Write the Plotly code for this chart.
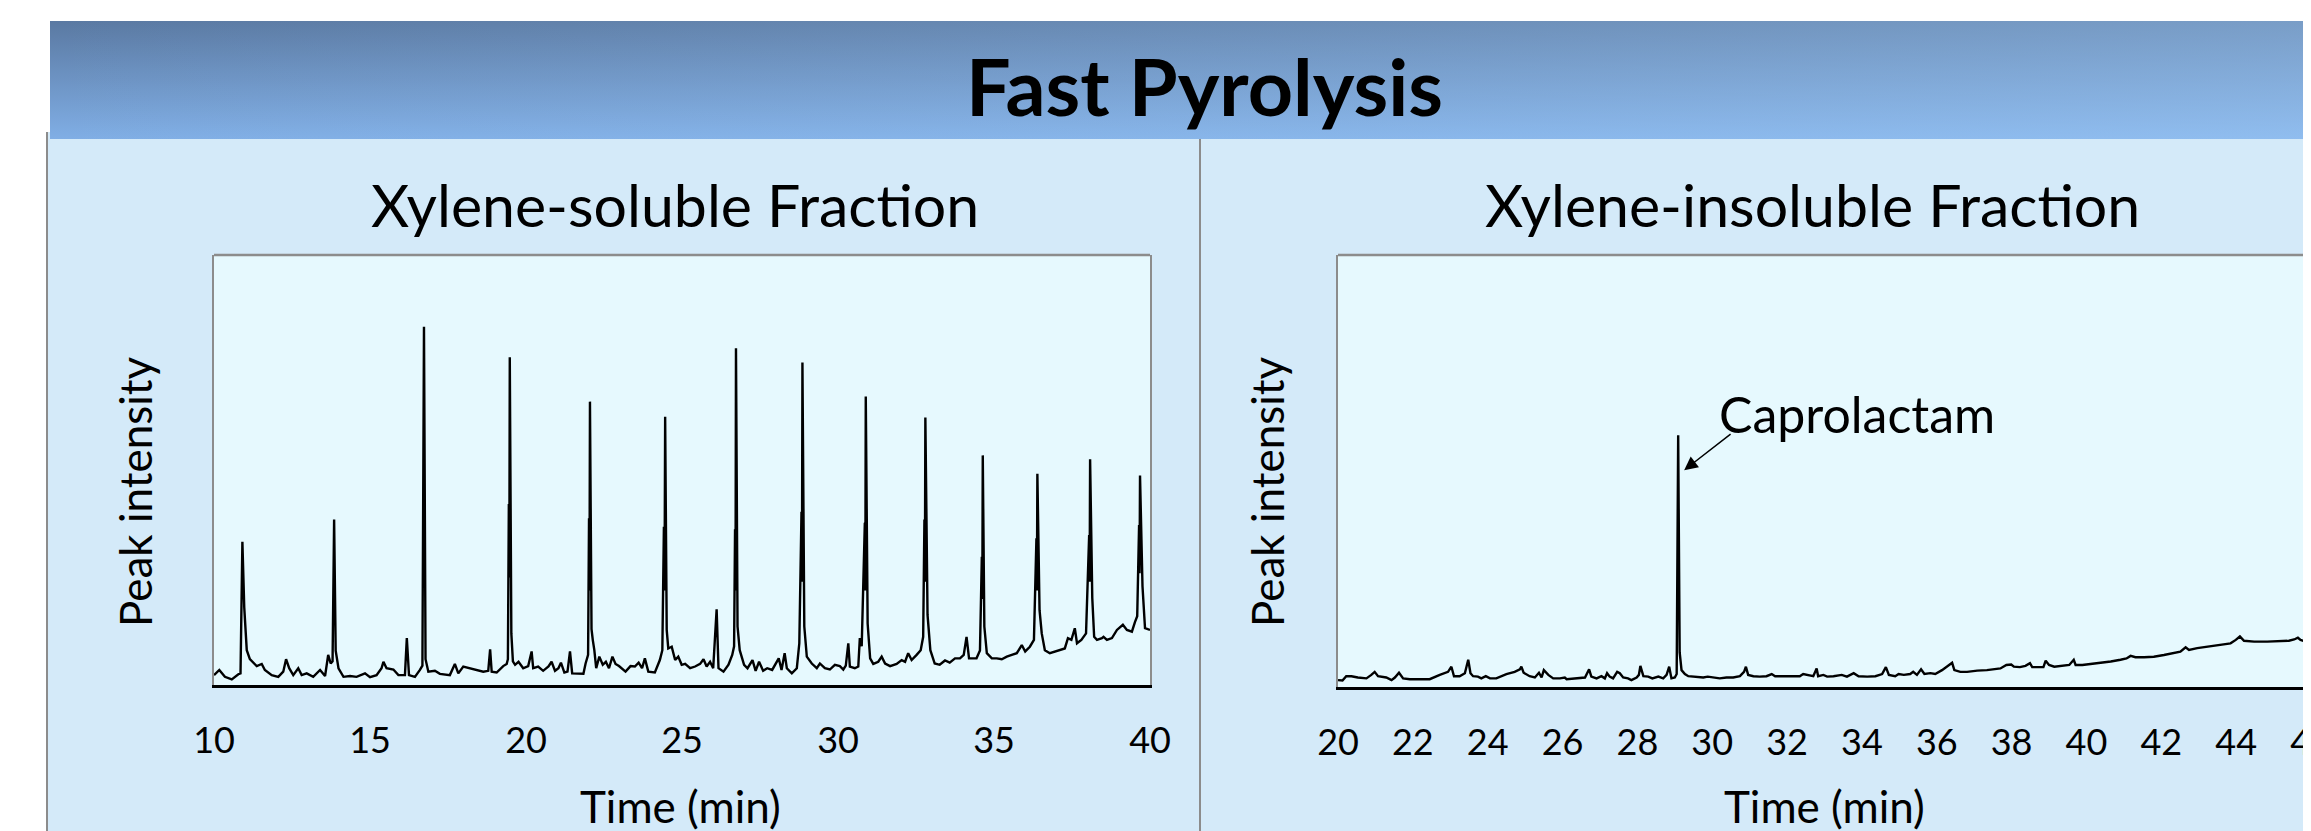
import base64
import plotly.graph_objects as go

# The page body has an 8 px default margin, so the figure is 8 px smaller and
# every page-pixel position below is shifted by that offset.
OFF = 8
W, H = 2311 - OFF, 831 - OFF
FONT = "Lato"

# ---------------- data ----------------
soluble_time = [
    10.00, 10.17, 10.35, 10.57, 10.78, 10.85, 10.91, 10.97, 11.05, 11.15, 11.37, 11.53, 11.63, 11.85,
    12.06, 12.22, 12.31, 12.41, 12.54, 12.70, 12.81, 12.97, 13.18, 13.40, 13.56, 13.66, 13.74, 13.80,
    13.85, 13.90, 13.99, 14.15, 14.36, 14.57, 14.84, 15.00, 15.21, 15.37, 15.43, 15.53, 15.75, 15.91,
    16.12, 16.18, 16.25, 16.44, 16.60, 16.68, 16.73, 16.78, 16.87, 17.08, 17.24, 17.56, 17.72, 17.83,
    17.99, 18.21, 18.42, 18.63, 18.79, 18.85, 18.90, 19.06, 19.27, 19.38, 19.42, 19.45, 19.465, 19.48,
    19.53, 19.58, 19.65, 19.76, 19.91, 20.07, 20.18, 20.23, 20.39, 20.55, 20.72, 20.82, 20.93, 21.04,
    21.12, 21.23, 21.33, 21.41, 21.48, 21.68, 21.84, 21.91, 21.99, 22.02, 22.035, 22.05, 22.10, 22.14,
    22.19, 22.25, 22.35, 22.46, 22.56, 22.66, 22.77, 22.87, 22.98, 23.19, 23.35, 23.49, 23.61, 23.72,
    23.81, 23.92, 24.13, 24.29, 24.37, 24.42, 24.44, 24.46, 24.51, 24.56, 24.67, 24.78, 24.88, 24.99,
    25.10, 25.26, 25.42, 25.58, 25.69, 25.79, 25.90, 26.00, 26.11, 26.17, 26.33, 26.49, 26.61, 26.67,
    26.70, 26.715, 26.73, 26.78, 26.85, 26.99, 27.10, 27.26, 27.36, 27.47, 27.60, 27.73, 27.89, 28.10,
    28.19, 28.29, 28.36, 28.52, 28.68, 28.76, 28.83, 28.845, 28.86, 28.92, 29.00, 29.16, 29.32, 29.42,
    29.58, 29.74, 29.90, 30.06, 30.17, 30.25, 30.33, 30.38, 30.54, 30.65, 30.70, 30.76, 30.86, 30.875,
    30.89, 30.95, 31.03, 31.13, 31.29, 31.40, 31.51, 31.67, 31.88, 32.04, 32.15, 32.25, 32.36, 32.52,
    32.65, 32.73, 32.77, 32.785, 32.80, 32.87, 32.96, 33.10, 33.26, 33.43, 33.58, 33.75, 33.91, 34.03,
    34.12, 34.20, 34.34, 34.44, 34.55, 34.61, 34.625, 34.64, 34.69, 34.77, 34.93, 35.09, 35.25, 35.41,
    35.57, 35.73, 35.89, 36.00, 36.15, 36.28, 36.36, 36.375, 36.39, 36.46, 36.53, 36.63, 36.79, 36.95,
    37.11, 37.27, 37.37, 37.48, 37.59, 37.66, 37.80, 37.95, 38.05, 38.065, 38.08, 38.15, 38.21, 38.30,
    38.46, 38.51, 38.62, 38.78, 38.94, 39.13, 39.26, 39.42, 39.52, 39.59, 39.65, 39.665, 39.68, 39.76,
    39.84, 40.00,
]
soluble_intensity = [
    2.3, 3.5, 1.9, 1.3, 2.5, 2.7, 33.3, 18.0, 8.1, 6.0, 4.4, 4.9, 3.5, 2.3,
    1.9, 3.1, 6.0, 3.9, 2.3, 3.9, 2.3, 2.7, 1.9, 3.5, 2.1, 7.0, 5.0, 5.5,
    38.5, 8.0, 3.9, 1.9, 2.1, 1.9, 2.7, 1.8, 2.3, 3.9, 5.4, 3.9, 3.6, 2.3,
    2.3, 10.9, 2.3, 1.9, 3.5, 4.5, 83.3, 6.0, 3.1, 3.3, 2.6, 2.3, 4.9, 2.7,
    4.3, 3.9, 3.5, 3.1, 3.3, 8.3, 3.1, 2.9, 4.4, 4.9, 6.0, 42.1, 25.0, 76.2,
    12.0, 5.5, 4.7, 5.4, 3.9, 4.4, 7.8, 3.9, 4.3, 3.3, 4.3, 5.4, 3.3, 3.9,
    5.2, 2.9, 3.1, 7.8, 2.7, 2.7, 2.6, 5.0, 7.0, 38.8, 22.0, 65.9, 13.0, 10.5,
    8.1, 3.9, 6.6, 4.7, 5.4, 3.9, 6.6, 4.9, 4.4, 3.1, 4.4, 4.3, 5.2, 3.9,
    6.2, 3.1, 2.9, 5.8, 8.1, 36.8, 22.0, 62.4, 12.8, 8.5, 8.9, 5.8, 6.6, 4.7,
    4.9, 3.9, 4.3, 4.9, 6.0, 4.3, 5.4, 3.9, 17.6, 3.9, 3.1, 4.7, 7.0, 9.0,
    36.2, 22.0, 78.3, 13.6, 8.1, 4.7, 3.9, 5.8, 3.3, 5.4, 3.3, 3.9, 3.5, 6.2,
    3.5, 7.4, 3.9, 2.7, 3.9, 9.7, 40.3, 24.0, 75.0, 13.6, 6.6, 5.0, 3.9, 5.0,
    3.9, 3.6, 4.7, 4.4, 3.6, 4.5, 9.7, 4.3, 3.9, 4.3, 10.9, 9.0, 37.7, 22.0,
    67.1, 14.3, 6.2, 4.9, 5.4, 6.6, 5.0, 4.4, 4.9, 5.8, 5.4, 7.4, 5.8, 7.0,
    8.1, 11.2, 38.5, 24.0, 62.2, 16.3, 8.1, 5.0, 4.7, 5.7, 5.2, 6.2, 6.2, 7.0,
    11.2, 6.2, 6.2, 6.2, 8.0, 29.8, 20.0, 53.4, 13.6, 7.4, 6.2, 6.2, 6.0, 6.6,
    7.0, 7.4, 9.3, 7.8, 8.9, 10.5, 34.1, 22.0, 49.1, 17.4, 12.0, 8.1, 7.4, 7.8,
    8.1, 8.5, 10.9, 10.5, 13.2, 9.7, 10.5, 12.0, 34.9, 24.0, 52.5, 20.2, 11.2, 10.5,
    10.9, 11.2, 10.5, 10.9, 12.8, 14.0, 12.8, 12.4, 14.7, 16.0, 37.2, 26.0, 48.7, 22.9,
    13.2, 12.8,
]

insoluble_time = [
    20.00, 20.12, 20.22, 20.36, 20.53, 20.76, 20.89, 20.98, 21.07, 21.29, 21.43, 21.52, 21.63, 21.74,
    21.92, 22.18, 22.45, 22.72, 22.94, 23.03, 23.10, 23.25, 23.39, 23.48, 23.54, 23.61, 23.74, 23.83,
    23.95, 24.06, 24.23, 24.50, 24.72, 24.86, 24.90, 24.96, 25.12, 25.26, 25.37, 25.44, 25.50, 25.62,
    25.75, 25.93, 26.06, 26.11, 26.37, 26.60, 26.71, 26.77, 26.91, 27.04, 27.13, 27.19, 27.26, 27.35,
    27.46, 27.53, 27.62, 27.75, 27.84, 27.98, 28.04, 28.08, 28.16, 28.29, 28.40, 28.56, 28.69, 28.78,
    28.85, 28.91, 29.00, 29.05, 29.09, 29.13, 29.18, 29.27, 29.36, 29.49, 29.62, 29.76, 29.88, 30.03,
    30.20, 30.38, 30.56, 30.74, 30.85, 30.90, 30.96, 31.10, 31.27, 31.45, 31.59, 31.68, 31.85, 32.03,
    32.21, 32.34, 32.43, 32.52, 32.70, 32.79, 32.83, 32.97, 33.07, 33.24, 33.46, 33.60, 33.78, 33.91,
    34.14, 34.36, 34.54, 34.64, 34.72, 34.89, 34.98, 35.12, 35.29, 35.37, 35.47, 35.58, 35.67, 35.83,
    35.96, 36.14, 36.32, 36.41, 36.47, 36.63, 36.81, 37.08, 37.34, 37.52, 37.70, 37.86, 37.99, 38.06,
    38.22, 38.37, 38.49, 38.55, 38.73, 38.85, 38.91, 39.00, 39.14, 39.31, 39.54, 39.66, 39.71, 39.89,
    40.11, 40.38, 40.65, 40.91, 41.07, 41.18, 41.31, 41.54, 41.80, 42.07, 42.34, 42.51, 42.65, 42.74,
    42.96, 43.23, 43.58, 43.85, 43.99, 44.10, 44.21, 44.48, 44.83, 45.19, 45.41, 45.55, 45.65, 45.72,
    45.90, 46.00,
]
insoluble_intensity = [
    1.6, 1.5, 2.5, 2.5, 2.2, 2.0, 2.8, 3.5, 2.5, 2.2, 1.6, 2.2, 3.3, 2.0,
    1.8, 1.8, 1.8, 2.8, 3.5, 4.7, 2.5, 2.5, 3.2, 6.3, 3.2, 2.5, 2.4, 2.0,
    2.5, 2.0, 2.0, 3.0, 3.5, 4.1, 4.7, 3.3, 2.5, 2.2, 3.3, 2.2, 3.9, 2.8,
    2.0, 2.0, 2.2, 1.8, 2.0, 2.2, 4.1, 2.4, 2.0, 2.5, 2.0, 3.2, 2.4, 2.0,
    3.5, 3.2, 2.2, 2.0, 1.6, 2.2, 2.8, 4.9, 2.5, 2.4, 2.0, 2.4, 2.0, 2.8,
    4.7, 2.0, 2.2, 3.0, 58.3, 8.0, 3.9, 3.0, 2.5, 2.4, 2.2, 2.2, 2.4, 2.2,
    2.0, 2.2, 2.2, 2.5, 3.5, 4.7, 2.8, 2.5, 2.4, 2.5, 3.0, 2.5, 2.5, 2.4,
    2.5, 2.5, 3.0, 2.8, 2.5, 4.3, 2.5, 2.8, 2.4, 2.5, 2.8, 2.4, 3.2, 2.5,
    2.4, 2.5, 3.0, 4.6, 2.8, 2.5, 3.0, 2.8, 3.0, 3.5, 2.8, 4.1, 3.0, 3.2,
    3.0, 3.9, 5.1, 5.6, 3.9, 3.5, 3.5, 3.8, 3.9, 4.1, 4.3, 5.1, 5.2, 4.7,
    4.6, 4.9, 5.5, 4.6, 4.7, 4.6, 6.1, 5.1, 4.7, 4.9, 5.1, 6.3, 5.1, 5.1,
    5.3, 5.6, 5.9, 6.3, 6.6, 7.2, 6.9, 6.9, 7.0, 7.4, 7.8, 8.2, 9.2, 8.6,
    9.0, 9.3, 9.7, 10.1, 10.9, 11.7, 10.7, 10.5, 10.5, 10.7, 10.7, 11.0, 11.4, 10.9,
    10.3, 10.1,
]

soluble_ticks = [10, 15, 20, 25, 30, 35, 40]
insoluble_ticks = [20, 22, 24, 26, 28, 30, 32, 34, 36, 38, 40, 42, 44, 46]

# ---------------- helpers for layout placement (page pixels -> paper) ----------------
def px(x):
    return (x - OFF) / W


def py(y):
    return 1 - (y - OFF) / H


PANEL = "#d4eaf9"
PLOTBG = "#e6f9fe"
GREY = "#8c8c8c"

fig = go.Figure()
fig.add_trace(go.Scatter(x=soluble_time, y=soluble_intensity, mode="lines",
                         line=dict(color="black", width=2.4), xaxis="x", yaxis="y",
                         hoverinfo="skip", showlegend=False))
fig.add_trace(go.Scatter(x=insoluble_time, y=insoluble_intensity, mode="lines",
                         line=dict(color="black", width=2.4), xaxis="x2", yaxis="y2",
                         hoverinfo="skip", showlegend=False))

tickfont = dict(family=FONT, size=36, color="black")
common_x = dict(ticks="", showgrid=False, zeroline=False, showline=True, linecolor="black",
                linewidth=2.5, tickfont=tickfont, ticklabelstandoff=22, fixedrange=True,
                ticklabeloverflow="allow")
common_y = dict(range=[0, 100], showticklabels=False, ticks="", showgrid=False, zeroline=False,
                showline=True, linecolor=GREY, linewidth=1.5, mirror=True, fixedrange=True)

fig.update_layout(
    width=W, height=H,
    margin=dict(l=0, r=0, t=0, b=0, autoexpand=False),
    paper_bgcolor=PANEL, plot_bgcolor=PLOTBG,
    xaxis=dict(domain=[px(214), px(1150)], range=[10, 40], tickvals=soluble_ticks, anchor="y", **common_x),
    yaxis=dict(domain=[py(685), py(255)], anchor="x", **common_y),
    xaxis2=dict(domain=[px(1338), 1.0], range=[20, 46], tickvals=insoluble_ticks, anchor="y2", **common_x),
    yaxis2=dict(domain=[py(687), py(255)], anchor="x2", **common_y),
    showlegend=False,
)

# header gradient band
svg = (
    '<svg xmlns="http://www.w3.org/2000/svg" width="2261" height="118" viewBox="0 0 2261 118" '
    'preserveAspectRatio="none"><defs>'
    '<linearGradient id="v" x1="0" y1="0" x2="0" y2="1">'
    '<stop offset="0" stop-color="#5a79a2"/><stop offset="1" stop-color="#80aee5"/></linearGradient>'
    '<linearGradient id="h" x1="0" y1="0" x2="1" y2="0">'
    '<stop offset="0" stop-color="#a8d4ff" stop-opacity="0"/>'
    '<stop offset="1" stop-color="#a8d4ff" stop-opacity="0.4"/></linearGradient></defs>'
    '<rect width="2261" height="118" fill="url(#v)"/><rect width="2261" height="118" fill="url(#h)"/></svg>'
)
src = "data:image/svg+xml;base64," + base64.b64encode(svg.encode()).decode()
fig.add_layout_image(dict(source=src, xref="paper", yref="paper", x=px(50), y=py(21),
                          sizex=2261 / W, sizey=118 / H, xanchor="left", yanchor="top",
                          sizing="stretch", layer="above"))

shapes = [
    # white page margins
    dict(type="rect", xref="paper", yref="paper", x0=0, x1=1, y0=py(21), y1=1,
         fillcolor="white", line=dict(width=0), layer="below"),
    dict(type="rect", xref="paper", yref="paper", x0=0, x1=px(50), y0=py(132), y1=1,
         fillcolor="white", line=dict(width=0), layer="below"),
    dict(type="rect", xref="paper", yref="paper", x0=0, x1=px(47), y0=0, y1=1,
         fillcolor="white", line=dict(width=0), layer="below"),
    # panel borders
    dict(type="line", xref="paper", yref="paper", x0=px(47), x1=px(47), y0=0, y1=py(132),
         line=dict(color=GREY, width=2), layer="below"),
    dict(type="line", xref="paper", yref="paper", x0=px(1200), x1=px(1200), y0=0, y1=py(139),
         line=dict(color=GREY, width=2), layer="below"),
    # grey top frame of each plot box
    dict(type="line", xref="x domain", yref="y domain", x0=0, x1=1, y0=1, y1=1,
         line=dict(color=GREY, width=2.5), layer="above"),
    dict(type="line", xref="x2 domain", yref="y2 domain", x0=0, x1=1, y0=1, y1=1,
         line=dict(color=GREY, width=2.5), layer="above"),
]
fig.update_layout(shapes=shapes)


def txt(text, x, y, size, bold=False, angle=0, xanchor="center"):
    return dict(text=f"<b>{text}</b>" if bold else text, xref="paper", yref="paper", x=x, y=y,
                xanchor=xanchor, yanchor="middle", showarrow=False, textangle=angle,
                font=dict(family=FONT, size=size, color="black"))


annotations = [
    txt("Fast Pyrolysis", px(1204), py(86), 79, bold=True),
    txt("Xylene-soluble Fraction", px(675), py(205), 59),
    txt("Xylene-insoluble Fraction", px(1812), py(205), 59),
    txt("Time (min)", px(680), py(806), 44),
    txt("Time (min)", px(1824), py(806), 44),
    txt("Peak intensity", px(135), py(492), 44, angle=-90),
    txt("Peak intensity", px(1267), py(492), 44, angle=-90),
    txt("Caprolactam", px(1717), py(414), 50, xanchor="left"),
    dict(text="", xref="x2", yref="y2", x=29.25, y=50.2, axref="x2", ayref="y2", ax=30.53, ay=58.8,
         showarrow=True, arrowhead=2, arrowsize=1.8, arrowwidth=1.5, arrowcolor="black"),
]
fig.update_layout(annotations=annotations)

fig.write_html("out.html")
